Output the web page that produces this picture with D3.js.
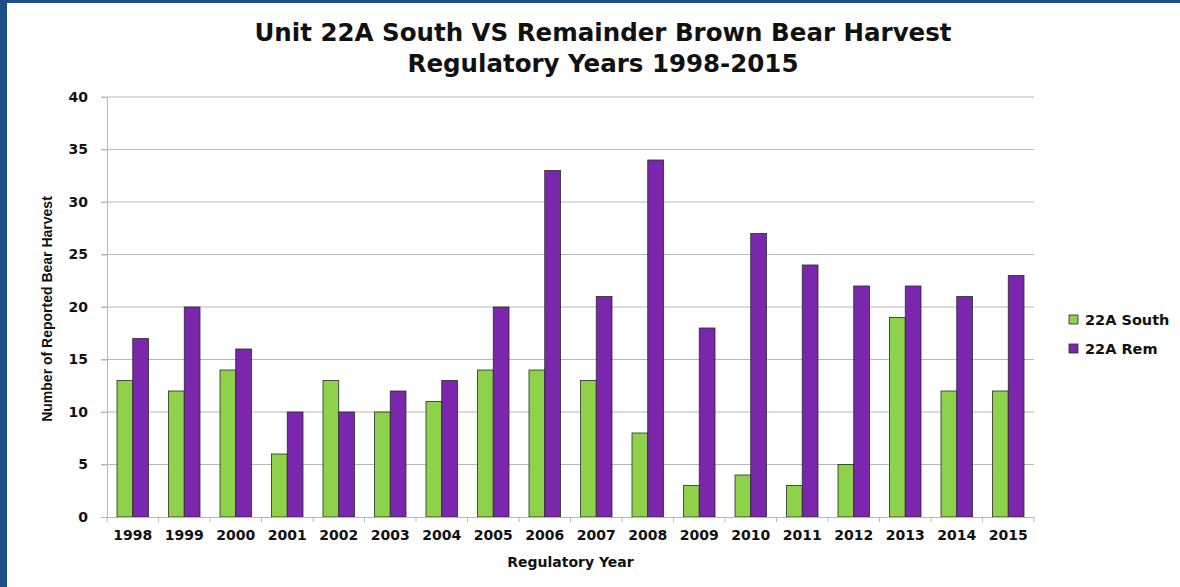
<!DOCTYPE html>
<html>
<head>
<meta charset="utf-8">
<script src="https://cdn.jsdelivr.net/npm/d3@7"></script>
<style>
  html, body { margin: 0; padding: 0; background: #fff; }
  svg { display: block; }
  .tick text { font-family: "DejaVu Sans", Verdana, sans-serif; font-weight: bold; fill: #111; }
</style>
</head>
<body>
<div id="chart"></div>
<script>
// data
var years = ["1998","1999","2000","2001","2002","2003","2004","2005","2006",
             "2007","2008","2009","2010","2011","2012","2013","2014","2015"];
var seriesNames = ["22A South", "22A Rem"];
var south = [13, 12, 14, 6, 13, 10, 11, 14, 14, 13, 8, 3, 4, 3, 5, 19, 12, 12];
var rem   = [17, 20, 16, 10, 10, 12, 13, 20, 33, 21, 34, 18, 27, 24, 22, 22, 21, 23];
var yTicks = [0, 5, 10, 15, 20, 25, 30, 35, 40];
var colors = ["#8ed14a", "#7a27ad"];

var W = 1180, H = 587;
var margin = {top: 97, right: 146, bottom: 70, left: 107};
var inW = W - margin.left - margin.right;
var inH = H - margin.top - margin.bottom;

var svg = d3.select("#chart").append("svg")
  .attr("width", W).attr("height", H);

// blue frame of the slide
svg.append("rect").attr("x", 0).attr("y", 0).attr("width", W).attr("height", H).attr("fill", "#1f4e86");
svg.append("rect").attr("x", 7).attr("y", 3).attr("width", W - 7).attr("height", H - 3).attr("fill", "#fff");

// title
var title = svg.append("text")
  .attr("x", 603).attr("text-anchor", "middle")
  .style("font-family", "'DejaVu Sans', Verdana, sans-serif")
  .style("font-weight", "bold").style("font-size", "24.5px").style("fill", "#111");
title.append("tspan").attr("x", 603).attr("y", 41).text("Unit 22A South VS Remainder Brown Bear Harvest");
title.append("tspan").attr("x", 603).attr("y", 72).text("Regulatory Years 1998-2015");

var g = svg.append("g").attr("transform", "translate(" + margin.left + "," + margin.top + ")");

var x0 = d3.scaleBand().domain(years).range([0, inW]).padding(0);
var x1 = d3.scaleBand().domain(seriesNames).range([10, x0.bandwidth() - 10]).padding(0);
var y = d3.scaleLinear().domain([0, 40]).range([inH, 0]);

// gridlines
g.append("g").selectAll("line").data(yTicks.filter(d => d > 0)).enter()
  .append("line")
  .attr("x1", -6).attr("x2", inW)
  .attr("y1", d => y(d)).attr("y2", d => y(d))
  .attr("stroke", "#b8b8b8").attr("stroke-width", 1);

// y axis
var yAxis = g.append("g").call(d3.axisLeft(y).tickValues(yTicks).tickSize(6).tickPadding(13));
yAxis.select(".domain").attr("stroke", "#b8b8b8");
yAxis.selectAll(".tick line").attr("stroke", "#b8b8b8");
yAxis.selectAll(".tick text").style("font-size", "14px");

// bars
var data = years.map((yr, i) => ({year: yr, vals: [south[i], rem[i]]}));
var groups = g.append("g").selectAll("g").data(data).enter()
  .append("g").attr("transform", d => "translate(" + x0(d.year) + ",0)");
groups.selectAll("rect").data(d => d.vals.map((v, j) => ({name: seriesNames[j], v: v, j: j}))).enter()
  .append("rect")
  .attr("x", d => x1(d.name))
  .attr("y", d => y(d.v))
  .attr("width", x1.bandwidth())
  .attr("height", d => inH - y(d.v))
  .attr("fill", d => colors[d.j])
  .attr("stroke", "#2a2a2a").attr("stroke-width", 0.8);

// x axis
var xAxis = g.append("g").attr("transform", "translate(0," + inH + ")")
  .call(d3.axisBottom(x0).tickSize(0).tickPadding(13));
xAxis.select(".domain").attr("stroke", "#b8b8b8");
xAxis.selectAll(".tick text").style("font-size", "14px");
// small separators between categories
xAxis.append("g").selectAll("line").data(years.concat(["end"])).enter()
  .append("line")
  .attr("x1", (d, i) => i * x0.step()).attr("x2", (d, i) => i * x0.step())
  .attr("y1", 0).attr("y2", 5)
  .attr("stroke", "#b8b8b8");

// axis titles
svg.append("text")
  .attr("x", margin.left + inW / 2).attr("y", 567).attr("text-anchor", "middle")
  .style("font-family", "'DejaVu Sans', Verdana, sans-serif")
  .style("font-weight", "bold").style("font-size", "14px").style("fill", "#111")
  .text("Regulatory Year");

svg.append("text")
  .attr("transform", "translate(52," + (margin.top + inH / 2 + 2) + ") rotate(-90)")
  .attr("text-anchor", "middle")
  .style("font-family", "'Liberation Sans Narrow', 'Arial Narrow', sans-serif")
  .style("font-weight", "bold")
  .style("font-size", "14px").style("fill", "#111")
  .text("Number of Reported Bear Harvest");

// legend
var legend = svg.append("g").attr("transform", "translate(1069,315)");
var li = legend.selectAll("g").data(seriesNames).enter()
  .append("g").attr("transform", (d, i) => "translate(0," + i * 29 + ")");
li.append("rect").attr("x", 0).attr("y", 0).attr("width", 9).attr("height", 9)
  .attr("fill", (d, i) => colors[i]).attr("stroke", "#2a2a2a").attr("stroke-width", 0.8);
li.append("text").attr("x", 16).attr("y", 10)
  .style("font-family", "'DejaVu Sans', Verdana, sans-serif")
  .style("font-weight", "bold").style("font-size", "14.5px").style("fill", "#111")
  .text(d => d);
</script>
</body>
</html>
